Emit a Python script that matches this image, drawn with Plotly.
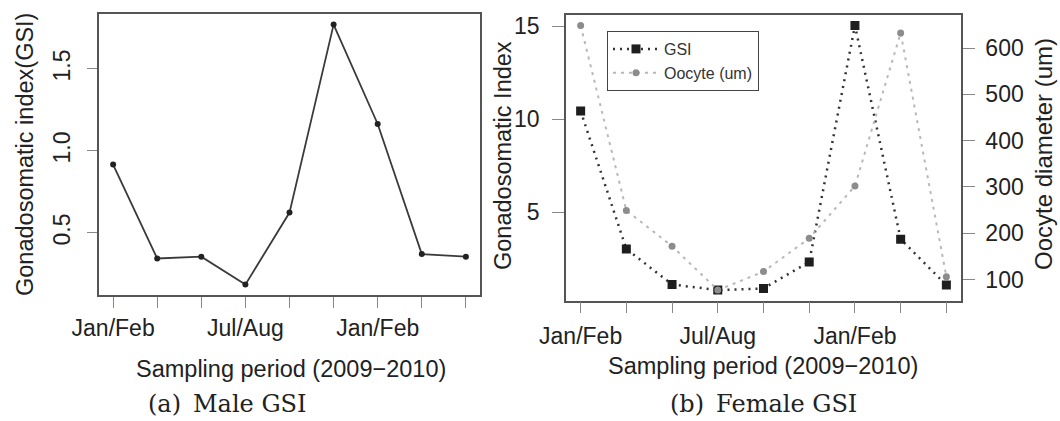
import plotly.graph_objects as go

# ---------------- data ----------------
periods = [1, 2, 3, 4, 5, 6, 7, 8, 9]
tick_text = ["Jan/Feb", "", "", "Jul/Aug", "", "", "Jan/Feb", "", ""]

male_gsi = [0.917, 0.344, 0.355, 0.185, 0.624, 1.77, 1.164, 0.371, 0.355]
female_gsi = [10.45, 3.03, 1.125, 0.82, 0.91, 2.33, 15.05, 3.56, 1.09]
oocyte_um = [649, 249, 172, 77, 117, 189, 302, 633, 106]

male_yticks = [0.5, 1.0, 1.5]
male_yticktext = ["0.5", "1.0", "1.5"]
gsi_yticks = [5, 10, 15]
oocyte_yticks = [100, 200, 300, 400, 500, 600]

W, H = 1060, 421
SANS = "Liberation Sans, Arial, sans-serif"
SERIF = "DejaVu Serif, serif"


def px_x(p):
    return p / W


def px_y(p):
    return 1 - p / H


def r_range(vals):
    lo, hi = min(vals), max(vals)
    d = (hi - lo) * 0.04
    return [lo - d, hi + d]


fig = go.Figure()

# ---- left panel: male GSI ----
fig.add_trace(go.Scatter(
    x=periods, y=male_gsi, mode="lines+markers", xaxis="x", yaxis="y",
    line=dict(color="#3a3a3a", width=1.8),
    marker=dict(color="#222222", size=6, symbol="circle"),
    showlegend=False, name="Male GSI"))

# ---- right panel: female GSI and oocyte diameter ----
fig.add_trace(go.Scatter(
    x=periods, y=female_gsi, mode="lines+markers", xaxis="x2", yaxis="y2",
    line=dict(color="#333333", width=2.5, dash="2px,5px"),
    marker=dict(color="#1e1e1e", size=9, symbol="square"),
    name="GSI"))
fig.add_trace(go.Scatter(
    x=periods, y=oocyte_um, mode="lines+markers", xaxis="x2", yaxis="y3",
    line=dict(color="#b8b8b8", width=2, dash="3px,5px"),
    marker=dict(color="#8c8c8c", size=7, symbol="circle"),
    name="Oocyte (um)"))

axis_common = dict(
    showgrid=False, zeroline=False, showline=True, mirror=True,
    automargin=False,
    linecolor="#555555", linewidth=1.5,
    ticks="outside", ticklen=11, tickcolor="#888888", tickwidth=1,
    tickfont=dict(family=SANS, size=23, color="#222222"),
)

fig.update_layout(
    width=W, height=H,
    margin=dict(l=0, r=0, t=0, b=0, autoexpand=False),
    paper_bgcolor="white", plot_bgcolor="white",
    xaxis=dict(axis_common, domain=[px_x(99), px_x(480)], anchor="y",
               range=[0.68, 9.32], tickmode="array", tickvals=periods,
               ticktext=tick_text, ticklabelstandoff=1),
    yaxis=dict(axis_common, domain=[px_y(295), px_y(14.2)], anchor="x",
               range=r_range(male_gsi), tickmode="array",
               tickvals=male_yticks, ticktext=male_yticktext,
               tickangle=-90, ticklen=10, ticklabelstandoff=8),
    xaxis2=dict(axis_common, domain=[px_x(566), px_x(961)], anchor="y2",
                range=[0.68, 9.32], tickmode="array", tickvals=periods,
                ticktext=tick_text, ticklabelstandoff=3),
    yaxis2=dict(axis_common, domain=[px_y(300.7), px_y(14.9)], anchor="x2",
                range=r_range(female_gsi), tickmode="array",
                tickvals=gsi_yticks, ticklen=12, ticklabelstandoff=8),
    yaxis3=dict(axis_common, overlaying="y2", side="right", anchor="x2",
                mirror=False, range=r_range(oocyte_um), tickmode="array",
                tickvals=oocyte_yticks, ticklen=12, ticklabelstandoff=6),
    legend=dict(x=px_x(607), y=px_y(31), xanchor="left", yanchor="top",
                bordercolor="#444444", borderwidth=1, bgcolor="white",
                font=dict(family=SANS, size=16, color="#333333"),
                itemwidth=46, tracegroupgap=0,
                entrywidth=150, entrywidthmode="pixels"),
)

ann = [
    # left panel titles
    dict(text="Gonadosomatic index(GSI)", x=px_x(25), y=px_y(155),
         textangle=-90, size=23.5),
    dict(text="Sampling period (2009\u22122010)", x=px_x(291), y=px_y(369),
         textangle=0, size=23.5),
    # right panel titles
    dict(text="Gonadosomatic Index", x=px_x(503), y=px_y(156),
         textangle=-90, size=23.5),
    dict(text="Oocyte diameter (um)", x=px_x(1043), y=px_y(154),
         textangle=-90, size=24),
    dict(text="Sampling period (2009\u22122010)", x=px_x(763), y=px_y(366),
         textangle=0, size=23.5),
]
annotations = []
for a in ann:
    annotations.append(dict(
        text=a["text"], x=a["x"], y=a["y"], xref="paper", yref="paper",
        xanchor="center", yanchor="middle", showarrow=False,
        textangle=a["textangle"],
        font=dict(family=SANS, size=a["size"], color="#222222")))

for text, cx in [("(a)\u2002Male GSI", 227), ("(b)\u2002Female GSI", 763)]:
    annotations.append(dict(
        text=text, x=px_x(cx), y=px_y(404), xref="paper", yref="paper",
        xanchor="center", yanchor="middle", showarrow=False,
        font=dict(family=SERIF, size=24, color="#222222")))

fig.update_layout(annotations=annotations)

fig.write_html("out.html")
